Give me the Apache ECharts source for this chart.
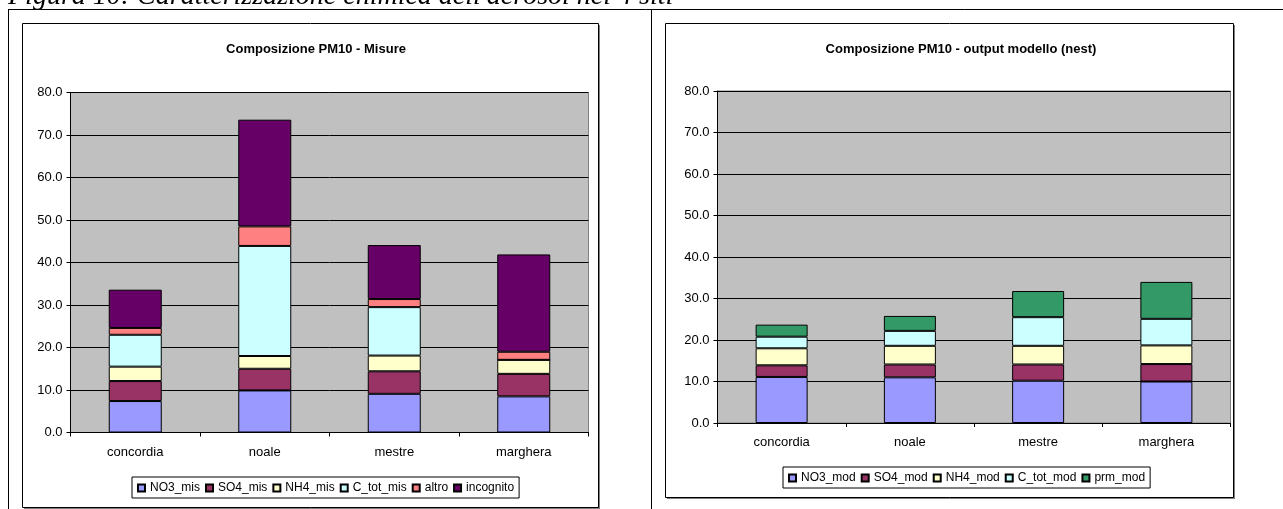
<!DOCTYPE html>
<html>
<head>
<meta charset="utf-8">
<title>Composizione PM10</title>
<script src="https://cdn.jsdelivr.net/npm/echarts@6/dist/echarts.min.js"></script>
<style>
  html, body { margin: 0; padding: 0; background: #fff; }
  #chart { width: 1283px; height: 509px; }
</style>
</head>
<body>
<div id="chart"></div>
<script>
// Sites
const categories = ['concordia', 'noale', 'mestre', 'marghera'];

// Measured composition (µg/m³)
const NO3_mis   = [7.4, 9.9, 9.1, 8.5];
const SO4_mis   = [4.7, 5.1, 5.3, 5.3];
const NH4_mis   = [3.4, 3.0, 3.7, 3.3];
const C_tot_mis = [7.5, 25.9, 11.4, 0.0];
const altro     = [1.6, 4.6, 1.9, 1.9];
const incognito = [9.0, 25.1, 12.7, 22.9];

// Model output (nest)
const NO3_mod   = [11.1, 11.0, 10.2, 10.0];
const SO4_mod   = [2.8, 3.1, 3.9, 4.2];
const NH4_mod   = [4.1, 4.5, 4.5, 4.5];
const C_tot_mod = [2.8, 3.6, 6.9, 6.4];
const prm_mod   = [2.9, 3.6, 6.3, 8.9];

// Value axis
const yMin = 0, yMax = 80, yStep = 10;

const FONT = '"Liberation Sans", Arial, sans-serif';
const C = {
  no3: '#9999FF', so4: '#993366', nh4: '#FFFFCC', ctot: '#CCFFFF',
  altro: '#FF8080', inc: '#660066', prm: '#339966'
};

const leftSeries = [
  ['NO3_mis', NO3_mis, C.no3], ['SO4_mis', SO4_mis, C.so4], ['NH4_mis', NH4_mis, C.nh4],
  ['C_tot_mis', C_tot_mis, C.ctot], ['altro', altro, C.altro], ['incognito', incognito, C.inc]
];
const rightSeries = [
  ['NO3_mod', NO3_mod, C.no3], ['SO4_mod', SO4_mod, C.so4], ['NH4_mod', NH4_mod, C.nh4],
  ['C_tot_mod', C_tot_mod, C.ctot], ['prm_mod', prm_mod, C.prm]
];

function xAxisCfg(gridIndex) {
  return {
    type: 'category', gridIndex, data: categories,
    axisLine: { show: true, lineStyle: { color: '#000', width: 1 } },
    axisTick: { show: true, length: 4, interval: 0, lineStyle: { color: '#000' } },
    axisLabel: { color: '#000', fontFamily: FONT, fontSize: 13, margin: 13, interval: 0 },
    splitLine: { show: false }
  };
}
function yAxisCfg(gridIndex) {
  return {
    type: 'value', gridIndex, min: yMin, max: yMax, interval: yStep,
    axisLine: { show: true, lineStyle: { color: '#000', width: 1 } },
    axisTick: { show: true, length: 4, lineStyle: { color: '#000' } },
    axisLabel: { color: '#000', fontFamily: FONT, fontSize: 13, margin: 8,
                 formatter: v => v.toFixed(1) },
    splitLine: { show: true, lineStyle: { color: '#000', width: 1 } }
  };
}
function barSeries(list, idx, stack, width) {
  return list.map(([name, data, color]) => ({
    name, type: 'bar', stack, data, barWidth: width,
    xAxisIndex: idx, yAxisIndex: idx,
    itemStyle: { color, borderColor: '#000', borderWidth: 1 },
    emphasis: { disabled: true }
  }));
}
function legendCfg(list, left, top) {
  return {
    data: list.map(s => s[0]), left, top, orient: 'horizontal',
    icon: 'rect', itemWidth: 7, itemHeight: 7, itemGap: 5,
    backgroundColor: '#fff', borderColor: '#000', borderWidth: 1, borderRadius: 0,
    padding: [5, 5, 4, 5], selectedMode: false,
    textStyle: { color: '#000', fontFamily: FONT, fontSize: 12 }
  };
}
// chart frame with a thin drop shadow
function boxGraphics(x, y, w, h) {
  return [
    { type: 'rect', z: -11, silent: true,
      shape: { x: x + 2, y: y + 2, width: w, height: h },
      style: { fill: '#808080' } },
    { type: 'rect', z: -10, silent: true,
      shape: { x: x + 0.5, y: y + 0.5, width: w, height: h },
      style: { fill: '#fff', stroke: '#000', lineWidth: 1 } }
  ];
}

const chart = echarts.init(document.getElementById('chart'), null, { renderer: 'canvas' });
chart.setOption({
  backgroundColor: '#fff',
  animation: false,
  title: [
    { text: 'Composizione PM10 - Misure', left: 311, top: 38, textAlign: 'center',
      textStyle: { fontFamily: FONT, fontSize: 13, fontWeight: 'bold', color: '#000' } },
    { text: 'Composizione PM10 - output modello (nest)', left: 956, top: 38, textAlign: 'center',
      textStyle: { fontFamily: FONT, fontSize: 13, fontWeight: 'bold', color: '#000' } }
  ],
  grid: [
    { left: 70.5, top: 92.5, width: 518, height: 340, show: true,
      backgroundColor: '#C0C0C0', borderColor: '#808080', borderWidth: 1 },
    { left: 717.5, top: 91, width: 513, height: 332, show: true,
      backgroundColor: '#C0C0C0', borderColor: '#808080', borderWidth: 1 }
  ],
  xAxis: [xAxisCfg(0), xAxisCfg(1)],
  yAxis: [yAxisCfg(0), yAxisCfg(1)],
  legend: [legendCfg(leftSeries, 132, 477), legendCfg(rightSeries, 783, 467)],
  series: [...barSeries(leftSeries, 0, 'mis', 53), ...barSeries(rightSeries, 1, 'mod', 52)],
  graphic: [
    // page table rules
    { type: 'line', z: -12, silent: true, shape: { x1: 8, y1: 9.5, x2: 1283, y2: 9.5 },
      style: { stroke: '#000', lineWidth: 1 } },
    { type: 'line', z: -12, silent: true, shape: { x1: 8.5, y1: 9, x2: 8.5, y2: 509 },
      style: { stroke: '#000', lineWidth: 1 } },
    { type: 'line', z: -12, silent: true, shape: { x1: 651.5, y1: 9, x2: 651.5, y2: 509 },
      style: { stroke: '#000', lineWidth: 1 } },
    // caption
    { type: 'text', z: -12, silent: true, x: 8, y: -3.5,
      style: { text: "Figura 10: Caratterizzazione chimica dell'aerosol nei 4 siti",
               fill: '#000', font: 'italic 28px "Liberation Serif", "Times New Roman", serif',
               textAlign: 'left', textVerticalAlign: 'middle' } },
    ...boxGraphics(22, 23, 576, 484),
    ...boxGraphics(665, 23, 568, 474)
  ]
});
</script>
</body>
</html>
